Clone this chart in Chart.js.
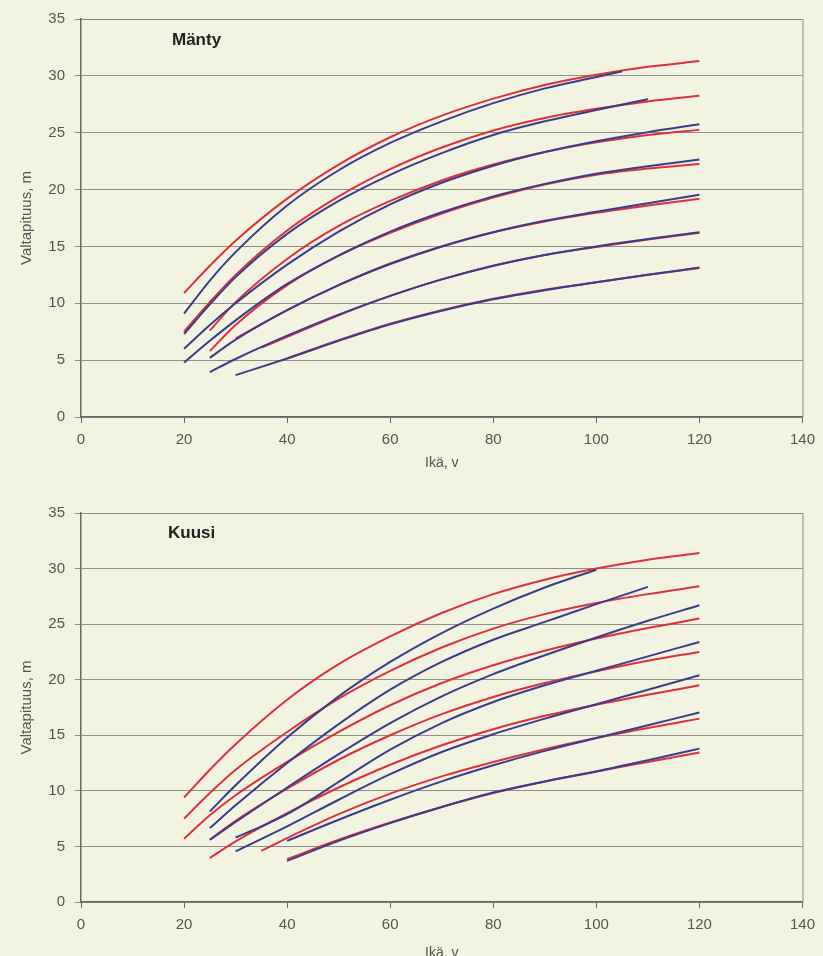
<!DOCTYPE html>
<html lang="fi">
<head>
<meta charset="UTF-8">
<title>Valtapituus – Mänty ja Kuusi</title>
<style>
    html, body {
        margin: 0;
        padding: 0;
        background: #f2f3e1;
        overflow: hidden;
    }
    #wrap {
        position: relative;
        width: 823px;
        height: 956px;
    }
    canvas {
        position: absolute;
        left: 0;
    }
    #chartManty { top: 0; }
    #chartKuusi { top: 480px; }
    .species {
        position: absolute;
        font-family: "Liberation Sans", Arial, sans-serif;
        font-weight: bold;
        font-size: 17px;
        color: #222;
        line-height: 1;
    }
</style>
</head>
<body>
<div id="wrap">
    <canvas id="chartManty" width="823" height="480"></canvas>
    <canvas id="chartKuusi" width="823" height="500"></canvas>
    <div class="species" style="left:172px; top:31px;">Mänty</div>
    <div class="species" style="left:168px; top:524px;">Kuusi</div>
</div>

<script src="https://cdn.jsdelivr.net/npm/chart.js"></script>
<script>
    // age (years) grid shared by every curve, null = no value read there
    const ages = [20, 25, 30, 35, 40, 45, 50, 60, 70, 80, 90, 100, 105, 110, 120];

    // Mänty (pine) – red and blue curve pairs, heights in m
    const mRed1  = [10.9, 13.3, 15.5, null, 19.2, null, 22.2, 24.6, 26.5, 28.0, 29.2, 30.1, null, 30.8, 31.3];
    const mBlue1 = [9.1, 12.0, 14.5, null, 18.6, null, 21.7, 24.1, 26.0, 27.6, 28.9, 29.9, 30.4, null, null];
    const mRed2  = [7.5, 10.1, 12.5, null, 16.4, null, 19.4, 21.8, 23.7, 25.2, 26.3, 27.1, null, 27.75, 28.25];
    const mBlue2 = [7.3, 9.9, 12.3, null, 16.1, null, 19.0, 21.3, 23.2, 24.8, 26.0, 27.0, null, 27.95, null];
    const mRed3  = [null, 7.6, 10.1, null, 13.9, null, 16.8, 19.0, 20.8, 22.2, 23.3, 24.15, null, 24.8, 25.25];
    const mBlue3 = [6.0, 8.1, 10.0, null, 13.4, null, 16.3, 18.7, 20.6, 22.1, 23.3, 24.25, null, 25.05, 25.75];
    const mRed4  = [null, 5.8, 8.1, null, 11.6, null, 14.2, 16.2, 17.9, 19.3, 20.45, 21.3, null, 21.85, 22.25];
    const mBlue4 = [4.8, 6.7, 8.5, null, 11.7, null, 14.2, 16.3, 18.0, 19.4, 20.5, 21.4, null, 22.05, 22.65];
    const mRed5  = [null, null, 6.9, null, 9.4, null, 11.6, 13.5, 15.0, 16.25, 17.2, 17.95, null, 18.6, 19.2];
    const mBlue5 = [null, 5.2, 6.8, null, 9.4, null, 11.6, 13.45, 15.0, 16.25, 17.25, 18.05, null, 18.8, 19.55];
    const mRed6  = [null, null, null, 6.1, 7.05, null, 8.95, 10.65, 12.1, 13.3, 14.25, 14.95, null, 15.6, 16.2];
    const mBlue6 = [null, 3.95, 5.1, null, 7.15, null, 9.0, 10.65, 12.1, 13.3, 14.25, 15.0, null, 15.65, 16.25];
    const mRed7  = [null, null, null, null, 5.15, null, 6.75, 8.2, 9.4, 10.4, 11.2, 11.85, null, 12.5, 13.1];
    const mBlue7 = [null, null, 3.68, null, 5.15, null, 6.7, 8.15, 9.35, 10.35, 11.15, 11.85, null, 12.5, 13.15];

    // Kuusi (spruce)
    const kRed1  = [9.4, 11.9, 14.2, null, 18.2, null, 21.4, 23.9, 26.0, 27.7, 29.0, 30.0, null, 30.8, 31.4];
    const kBlue1 = [null, 8.15, 10.5, null, 14.8, null, 18.5, 21.6, 24.2, 26.4, 28.3, 29.9, null, null, null];
    const kRed2  = [7.5, 9.8, 11.9, null, 15.3, null, 18.3, 20.8, 22.9, 24.6, 25.9, 26.9, null, 27.7, 28.4];
    const kBlue2 = [null, 6.65, 8.7, null, 12.5, null, 16.0, 19.1, 21.6, 23.6, 25.2, 26.8, null, 28.35, null];
    const kRed3  = [5.7, 7.8, 9.6, null, 12.6, null, 15.3, 17.7, 19.7, 21.3, 22.6, 23.7, null, 24.65, 25.5];
    const kBlue3 = [null, 5.6, 7.2, null, 10.3, null, 13.3, 16.1, 18.5, 20.5, 22.2, 23.8, null, 25.3, 26.7];
    const kRed4  = [null, 5.6, 7.3, null, 10.2, null, 12.8, 15.0, 16.9, 18.45, 19.7, 20.75, null, 21.7, 22.5];
    const kBlue4 = [null, null, 5.8, 6.8, 7.9, 9.3, 10.8, 13.7, 16.1, 18.0, 19.5, 20.8, null, 22.1, 23.4];
    const kRed5  = [null, 3.95, 5.45, null, 8.0, null, 10.3, 12.35, 14.1, 15.55, 16.75, 17.75, null, 18.65, 19.5];
    const kBlue5 = [null, null, 4.55, null, 6.8, null, 9.2, 11.5, 13.5, 15.1, 16.5, 17.8, null, 19.1, 20.4];
    const kRed6  = [null, null, null, 4.6, 5.75, null, 7.9, 9.75, 11.3, 12.6, 13.75, 14.75, null, 15.65, 16.5];
    const kBlue6 = [null, null, null, null, 5.5, null, 7.4, 9.2, 10.85, 12.3, 13.6, 14.75, null, 15.9, 17.05];
    const kRed7  = [null, null, null, null, 3.85, null, 5.6, 7.15, 8.55, 9.8, 10.85, 11.75, null, 12.6, 13.45];
    const kBlue7 = [null, null, null, null, 3.7, null, 5.5, 7.1, 8.55, 9.85, 10.85, 11.75, null, 12.75, 13.8];

    const xTicks = { min: 0, max: 140, step: 20 };
    const yTicks = { min: 0, max: 35, step: 5 };

    const RED = 'rgb(224, 48, 58)';
    const BLUE = 'rgb(58, 60, 140)';
    const FONT = '"Liberation Sans", Arial, sans-serif';

    function toPoints(values) {
        return ages.map((a, i) => ({ x: a, y: values[i] }));
    }

    function curve(values, color) {
        return {
            data: toPoints(values),
            borderColor: color,
            borderWidth: 2,
            pointRadius: 0,
            fill: false,
            spanGaps: true,
            cubicInterpolationMode: 'monotone',
            order: color === BLUE ? 0 : 1   // blue drawn on top of red
        };
    }

    // plot frame (top and right edges like the original)
    const framePlugin = {
        id: 'frame',
        afterDraw(chart) {
            const { ctx, chartArea: a } = chart;
            ctx.save();
            ctx.strokeStyle = '#8a8a84';
            ctx.lineWidth = 1;
            ctx.beginPath();
            ctx.moveTo(a.left, a.top + 0.5);
            ctx.lineTo(a.right + 0.5, a.top + 0.5);
            ctx.lineTo(a.right + 0.5, a.bottom);
            ctx.stroke();
            ctx.restore();
        }
    };

    function makeChart(id, reds, blues, padTop, padRight, xHeight, xTitlePad) {
        const datasets = [];
        blues.forEach(b => datasets.push(curve(b, BLUE)));
        reds.forEach(r => datasets.push(curve(r, RED)));

        return new Chart(document.getElementById(id), {
            type: 'line',
            data: { datasets: datasets },
            plugins: [framePlugin],
            options: {
                responsive: false,
                animation: false,
                layout: { padding: { top: padTop, right: padRight, left: 0, bottom: 0 } },
                plugins: {
                    legend: { display: false },
                    tooltip: { enabled: false }
                },
                scales: {
                    x: {
                        type: 'linear',
                        min: xTicks.min,
                        max: xTicks.max,
                        ticks: {
                            stepSize: xTicks.step,
                            color: '#555',
                            font: { family: FONT, size: 15 },
                            padding: 8,
                            maxRotation: 0
                        },
                        grid: { drawOnChartArea: false, tickLength: 6, color: '#666' },
                        border: { color: '#666', width: 1.5 },
                        title: {
                            display: true,
                            text: 'Ikä, v',
                            color: '#555',
                            font: { family: FONT, size: 14 },
                            padding: { top: 0, bottom: xTitlePad }
                        },
                        afterFit(scale) { scale.height = xHeight; }
                    },
                    y: {
                        type: 'linear',
                        min: yTicks.min,
                        max: yTicks.max,
                        ticks: {
                            stepSize: yTicks.step,
                            color: '#555',
                            font: { family: FONT, size: 15 },
                            padding: 10
                        },
                        grid: { color: '#8f8f88', tickLength: 6 },
                        border: { color: '#666', width: 1.5 },
                        title: {
                            display: true,
                            text: 'Valtapituus, m',
                            color: '#555',
                            font: { family: FONT, size: 15 },
                            padding: { top: 18, bottom: 0 }
                        },
                        afterFit(scale) { scale.width = 81; }
                    }
                }
            }
        });
    }

    makeChart('chartManty',
        [mRed1, mRed2, mRed3, mRed4, mRed5, mRed6, mRed7],
        [mBlue1, mBlue2, mBlue3, mBlue4, mBlue5, mBlue6, mBlue7],
        19, 15, 63, 8);

    makeChart('chartKuusi',
        [kRed1, kRed2, kRed3, kRed4, kRed5, kRed6, kRed7],
        [kBlue1, kBlue2, kBlue3, kBlue4, kBlue5, kBlue6, kBlue7],
        33, 14, 78, 18);
</script>
</body>
</html>
